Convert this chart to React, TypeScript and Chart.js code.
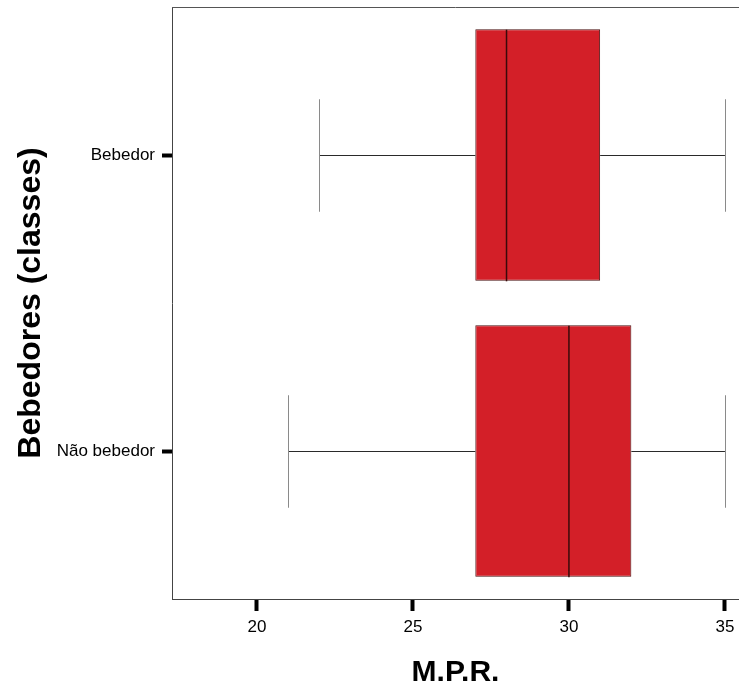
import React, { useEffect, useRef } from "react";
import { Chart, registerables } from "chart.js";

Chart.register(...registerables);

const categories = ["Bebedor", "Não bebedor"];
const mins = [22, 21];
const q1s = [27, 27];
const medians = [28, 30];
const q3s = [31, 32];
const maxs = [35, 35];
const xTickValues = [20, 25, 30, 35];
const xMin = 17.28;
const xMax = 35.45;

const FONT = "'Liberation Sans', Arial, Helvetica, sans-serif";

const boxPlugin = {
  id: "boxExtras",
  afterDatasetsDraw(chart: any) {
    const { ctx, scales, chartArea } = chart;
    const x = scales.x;
    const y = scales.y;
    const meta = chart.getDatasetMeta(0);
    const band = Math.abs(y.getPixelForValue(1) - y.getPixelForValue(0));
    const capHalf = band * 0.19;
    ctx.save();
    categories.forEach((_, i) => {
      const cy = Math.round(y.getPixelForValue(i)) + 0.5;
      const el = meta.data[i];
      const half = el ? el.height / 2 : band * 0.425;
      const pMin = x.getPixelForValue(mins[i]);
      const pQ1 = x.getPixelForValue(q1s[i]);
      const pQ3 = x.getPixelForValue(q3s[i]);
      const pMax = x.getPixelForValue(maxs[i]);
      const pMed = x.getPixelForValue(medians[i]);
      ctx.strokeStyle = "#2a2a2a";
      ctx.lineWidth = 1;
      ctx.beginPath();
      ctx.moveTo(pMin, cy);
      ctx.lineTo(pQ1, cy);
      ctx.moveTo(pQ3, cy);
      ctx.lineTo(pMax, cy);
      ctx.stroke();
      ctx.strokeStyle = "#8a8a8a";
      ctx.beginPath();
      ctx.moveTo(Math.round(pMin) + 0.5, cy - capHalf);
      ctx.lineTo(Math.round(pMin) + 0.5, cy + capHalf);
      ctx.moveTo(Math.round(pMax) + 0.5, cy - capHalf);
      ctx.lineTo(Math.round(pMax) + 0.5, cy + capHalf);
      ctx.stroke();
      ctx.strokeStyle = "#3a0a0a";
      ctx.lineWidth = 1.5;
      ctx.beginPath();
      ctx.moveTo(pMed, cy - half);
      ctx.lineTo(pMed, cy + half);
      ctx.stroke();
    });
    ctx.strokeStyle = "#555555";
    ctx.lineWidth = 1;
    ctx.beginPath();
    ctx.moveTo(chartArea.left, chartArea.top + 0.5);
    ctx.lineTo(chartArea.right, chartArea.top + 0.5);
    ctx.stroke();
    ctx.restore();
  },
};

export default function App() {
  const ref = useRef<HTMLCanvasElement | null>(null);
  useEffect(() => {
    if (!ref.current) return;
    const chart = new Chart(ref.current, {
      type: "bar",
      data: {
        labels: categories,
        datasets: [
          {
            data: categories.map((_, i) => [q1s[i], q3s[i]]) as any,
            backgroundColor: "#d31f28",
            borderColor: "#4a1010",
            borderWidth: 1,
            borderSkipped: false,
            barPercentage: 0.85,
            categoryPercentage: 1,
          },
        ],
      },
      options: {
        indexAxis: "y",
        responsive: false,
        animation: false,
        devicePixelRatio: 1,
        layout: { padding: { left: 0, right: 0, top: 0, bottom: 0 } },
        plugins: {
          legend: { display: false },
          tooltip: { enabled: false },
        },
        scales: {
          x: {
            type: "linear",
            min: xMin,
            max: xMax,
            afterBuildTicks: (scale: any) => {
              scale.ticks = xTickValues.map((v) => ({ value: v }));
            },
            afterFit: (scale: any) => {
              scale.height = 93;
              scale.paddingLeft = 0;
              scale.paddingRight = 0;
            },
            grid: {
              display: true,
              drawOnChartArea: false,
              drawTicks: true,
              tickLength: 12,
              tickWidth: 4,
              tickColor: "#000000",
            },
            border: { display: true, color: "#444444", width: 1 },
            ticks: {
              color: "#000000",
              padding: 6,
              autoSkip: false,
              maxRotation: 0,
              font: { family: FONT, size: 17 },
              callback: (v: any) => String(v),
            },
            title: {
              display: true,
              text: "M.P.R.",
              color: "#000000",
              padding: { top: 0, bottom: 1 },
              font: { family: FONT, size: 30, weight: "bold" },
            },
          },
          y: {
            type: "category",
            offset: true,
            afterFit: (scale: any) => {
              scale.width = 172;
              scale.paddingTop = 7;
              scale.paddingBottom = 0;
            },
            grid: {
              display: true,
              drawOnChartArea: false,
              drawTicks: true,
              tickLength: 10,
              tickWidth: 4,
              tickColor: "#000000",
              offset: false,
            },
            border: { display: true, color: "#444444", width: 1 },
            ticks: {
              color: "#000000",
              padding: 7,
              font: { family: FONT, size: 17 },
            },
            title: {
              display: true,
              text: "Bebedores (classes)",
              color: "#000000",
              padding: { top: 12, bottom: 0 },
              font: { family: FONT, size: 32, weight: "bold" },
            },
          },
        },
      } as any,
      plugins: [boxPlugin],
    });
    return () => chart.destroy();
  }, []);
  return (
    <div style={{ position: "fixed", left: 0, top: 0, width: 739, height: 692, background: "#ffffff" }}>
      <canvas ref={ref} width={739} height={692} style={{ width: 739, height: 692, display: "block" }} />
    </div>
  );
}
